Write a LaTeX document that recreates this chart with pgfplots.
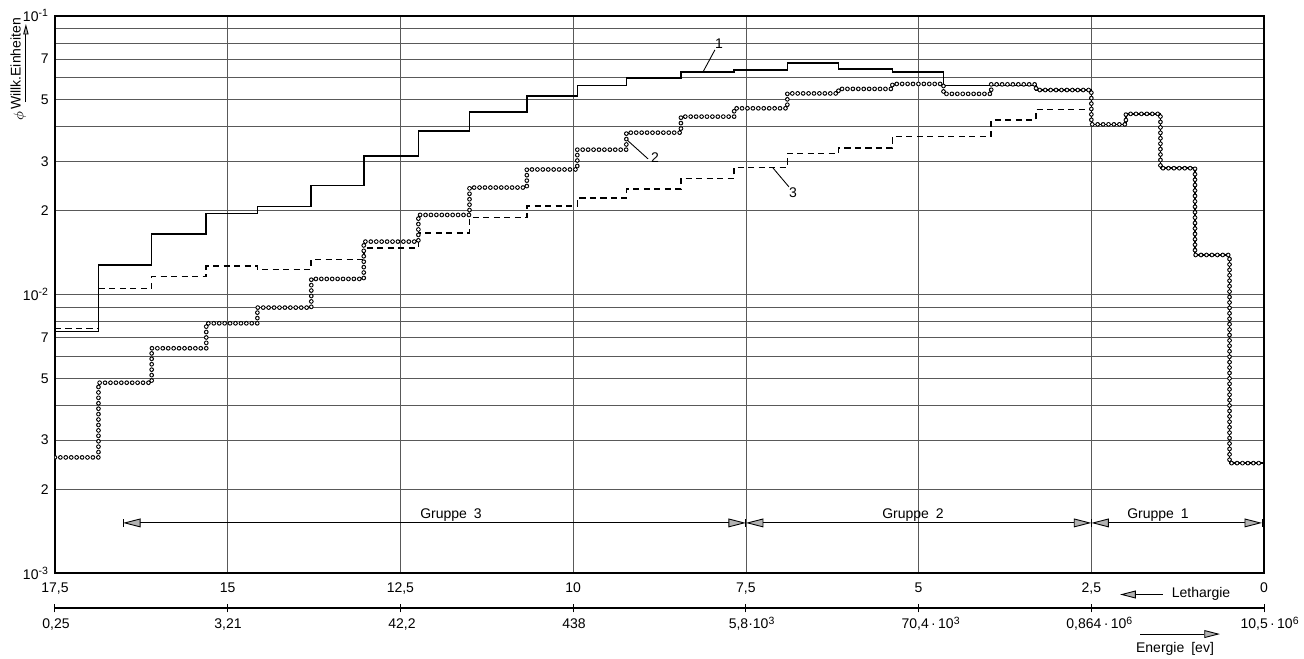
\documentclass[border=0pt]{standalone}
\usepackage{fontspec}
\setmainfont{Liberation Sans}
\usepackage{pgfplots}
\usepackage{pgfplotstable}
\pgfplotsset{compat=1.18}
\usetikzlibrary{arrows.meta}

% lethargy edge, flux curves 1 (solid), 2 (circles), 3 (dashed)
\pgfplotstableread{
u      a        b        c
17.5   0.00735  0.00260  0.00755
16.87  0.01276  0.00482  0.01052
16.10  0.01648  0.00641  0.01159
15.31  0.01956  0.00788  0.01265
14.57  0.02066  0.00897  0.01230
13.79  0.0246   0.01137  0.01337
13.03  0.0314   0.01548  0.0147
12.24  0.0387   0.0193   0.0166
11.50  0.0451   0.0242   0.01888
10.67  0.0517   0.0281   0.02078
9.94   0.0562   0.0331   0.02215
9.23   0.0600   0.0381   0.0239
8.44   0.0628   0.0435   0.0261
7.67   0.0640   0.0466   0.0286
6.90   0.0678   0.0527   0.0321
6.16   0.0645   0.0547   0.0335
5.38   0.0628   0.0570   0.0369
4.64   0.0562   0.0525   0.0369
3.95   0.0562   0.0568   0.0423
3.30   0.0542   0.0542   0.0462
2.5    0.0408   0.0408   0.0408
2.0    0.0445   0.0445   0.0445
1.5    0.0284   0.0284   0.0284
1.0    0.01386  0.01386  0.01386
0.5    0.00248  0.00248  0.00248
0      0.00248  0.00248  0.00248
}\flux

\tikzset{
  ghead/.style={-{Triangle[length=9pt,width=4.5pt,fill=gray!60]}},
  gboth/.style={{Triangle[length=10pt,width=5pt,fill=gray!60]}-{Triangle[length=10pt,width=5pt,fill=gray!60]}},
}

\begin{document}
\begin{tikzpicture}[font=\footnotesize]
\begin{axis}[
  scale only axis, width=690.9pt, height=318.3pt,
  xmin=0, xmax=17.5, x dir=reverse,
  ymode=log, ymin=1e-3, ymax=1e-1,
  xtick={0,2.5,5,7.5,10,12.5,15,17.5},
  xticklabels={0,{2,5},5,{7,5},10,{12,5},15,{17,5}},
  ytick={0.001,0.002,0.003,0.004,0.005,0.006,0.007,0.008,0.009,
         0.01,0.02,0.03,0.04,0.05,0.06,0.07,0.08,0.09,0.1},
  yticklabels={10\textsuperscript{-3},2,3,,5,,7,,,
               10\textsuperscript{-2},2,3,,5,,7,,,10\textsuperscript{-1}},
  grid=major, major grid style={black!65, line width=0.4pt},
  tick style={draw=none},
  axis line style={line width=0.9pt},
  ticklabel style={font=\footnotesize},
  xticklabel style={yshift=-2pt},
]
\addplot[const plot, black, line width=0.9pt, mark=none] table[x=u, y=a] {\flux};
\addplot[const plot, black, line width=0.9pt, mark=none,
         dash pattern=on 3.5pt off 2.5pt] table[x=u, y=c] {\flux};
% curve 2: small open rings
\addplot[const plot, black, line width=2.7pt, mark=none, line cap=round,
         dash pattern=on 0pt off 3.1pt] table[x=u, y=b] {\flux};
\addplot[const plot, white, line width=1.6pt, mark=none, line cap=round,
         dash pattern=on 0pt off 3.1pt] table[x=u, y=b] {\flux};
\end{axis}

\begin{scope}[x=1pt, y=1pt]
% curve numbers
\draw[line width=0.5pt] (377.1,298.9) -- (370.3,286.3);
\node at (379.4,302.3) {1};
\draw[line width=0.5pt] (326.9,247.4) -- (338.9,236.6);
\node at (342.9,237.1) {2};
\draw[line width=0.5pt] (410.3,231.4) -- (419.4,220.6);
\node at (421.7,217.1) {3};

% group arrows
\draw[gboth, line width=0.5pt] (38.9,28.6) -- (394.8,28.6);
\draw[gboth, line width=0.5pt] (394.8,28.6) -- (592.2,28.6);
\draw[gboth, line width=0.5pt] (592.2,28.6) -- (689.7,28.6);
\foreach \X in {38.9,394.8,592.2,689.7}
  \draw[line width=0.5pt] (\X,26.3) -- (\X,30.9);
\node[anchor=base] at (226.3,31.4) {Gruppe\enspace3};
\node[anchor=base] at (490.3,31.4) {Gruppe\enspace2};
\node[anchor=base] at (630.3,31.4) {Gruppe\enspace1};

% energy scale
\draw[line width=0.6pt] (0,-20) -- (690.9,-20);
\foreach \X in {0,98.7,197.4,296.1,394.8,493.5,592.2,690.9}
  \draw[line width=0.6pt] (\X,-22.5) -- (\X,-17.5);
\node[anchor=base] at (0.6,-32) {0,25};
\node[anchor=base] at (98.9,-32) {3,21};
\node[anchor=base] at (198.3,-32) {42,2};
\node[anchor=base] at (296.6,-32) {438};
\node[anchor=base] at (398.3,-32) {5,8·10\textsuperscript{3}};
\node[anchor=base] at (500.6,-32) {70,4\,·\,10\textsuperscript{3}};
\node[anchor=base] at (597,-32) {0,864\,·\,10\textsuperscript{6}};
\node[anchor=base] at (694.3,-32) {10,5\,·\,10\textsuperscript{6}};

% direction captions
\draw[ghead, line width=0.5pt] (633.1,-12.3) -- (608.6,-12.3);
\node at (654.9,-12) {Lethargie};
\draw[ghead, line width=0.5pt] (620,-34.9) -- (665.7,-34.9);
\node[anchor=base] at (640,-45.5) {Energie\enspace[ev]};

% y axis caption
\node[rotate=90] at (-20,261) {$\phi$};
\node[rotate=90] at (-22.5,290.9) {Willk.Einheiten};
\draw[-{Triangle[length=6pt,width=3pt,fill=gray!60]}, line width=0.5pt]
  (-16.6,269) -- (-16.6,313.7);
\end{scope}

\pgfresetboundingbox
\path (-31.4pt,-49.1pt) rectangle (713.7pt,327.4pt);
\end{tikzpicture}
\end{document}
